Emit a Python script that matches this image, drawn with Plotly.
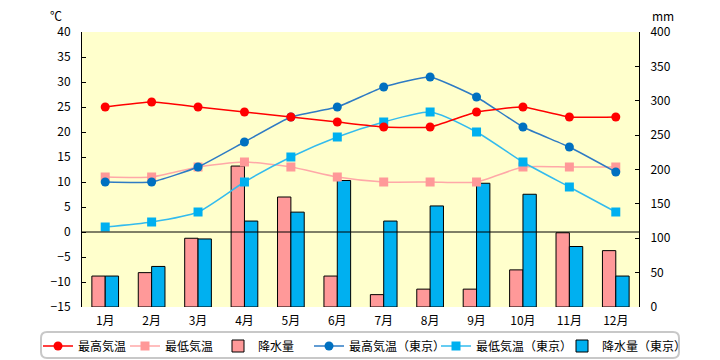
import plotly.graph_objects as go

months = ["1月", "2月", "3月", "4月", "5月", "6月", "7月", "8月", "9月", "10月", "11月", "12月"]
max_temp = [25, 26, 25, 24, 23, 22, 21, 21, 24, 25, 23, 23]
min_temp = [11, 11, 13, 14, 13, 11, 10, 10, 10, 13, 13, 13]
precip = [45, 50, 100, 205, 160, 45, 18, 26, 26, 54, 108, 82]
max_temp_tokyo = [10, 10, 13, 18, 23, 25, 29, 31, 27, 21, 17, 12]
min_temp_tokyo = [1, 2, 4, 10, 15, 19, 22, 24, 20, 14, 9, 4]
precip_tokyo = [45, 59, 99, 125, 138, 184, 125, 147, 180, 164, 88, 45]

temp_ticks = list(range(-15, 41, 5))
precip_ticks = list(range(0, 401, 50))

FONT = "Noto Sans CJK JP"
W, H = 720, 360
ML, MR, MT, MB = 82, 81, 32, 53
PW, PH = W - ML - MR, H - MT - MB


def px(x):
    return (x - ML) / PW


def py(y):
    return (H - MB - y) / PH


def rounded_rect(x0, y0, x1, y1, r):
    pts = [
        f"M {px(x0 + r)},{py(y0)}",
        f"L {px(x1 - r)},{py(y0)}",
        f"Q {px(x1)},{py(y0)} {px(x1)},{py(y0 + r)}",
        f"L {px(x1)},{py(y1 - r)}",
        f"Q {px(x1)},{py(y1)} {px(x1 - r)},{py(y1)}",
        f"L {px(x0 + r)},{py(y1)}",
        f"Q {px(x0)},{py(y1)} {px(x0)},{py(y1 - r)}",
        f"L {px(x0)},{py(y0 + r)}",
        f"Q {px(x0)},{py(y0)} {px(x0 + r)},{py(y0)}",
        "Z",
    ]
    return " ".join(pts)


fig = go.Figure()

# Bars on primary (right-side) axis so lines (y2) draw above them
fig.add_trace(go.Bar(x=months, y=precip, name="降水量", yaxis="y",
                     marker=dict(color="#FF9999", line=dict(color="black", width=1)),
                     legend="legend3"))
fig.add_trace(go.Bar(x=months, y=precip_tokyo, name="降水量（東京）", yaxis="y",
                     marker=dict(color="#00B0F0", line=dict(color="black", width=1)),
                     legend="legend6"))

fig.add_trace(go.Scatter(x=months, y=min_temp, name="最低気温", yaxis="y2",
                         mode="lines+markers", line=dict(color="#FFA8A8", width=1.5, shape="spline", smoothing=0.6),
                         marker=dict(symbol="square", size=9, color="#FF9999"),
                         legend="legend2"))
fig.add_trace(go.Scatter(x=months, y=min_temp_tokyo, name="最低気温（東京）", yaxis="y2",
                         mode="lines+markers", line=dict(color="#33BBEE", width=1.5, shape="spline", smoothing=0.6),
                         marker=dict(symbol="square", size=9, color="#00B0F0"),
                         legend="legend5"))
fig.add_trace(go.Scatter(x=months, y=max_temp_tokyo, name="最高気温（東京）", yaxis="y2",
                         mode="lines+markers", line=dict(color="#2E7BC4", width=1.5, shape="spline", smoothing=0.4),
                         marker=dict(symbol="circle", size=9, color="#0070C0"),
                         legend="legend4"))
fig.add_trace(go.Scatter(x=months, y=max_temp, name="最高気温", yaxis="y2",
                         mode="lines+markers", line=dict(color="#FF0000", width=1.5, shape="spline", smoothing=0.4),
                         marker=dict(symbol="circle", size=9, color="#FF0000"),
                         legend="legend"))

legend_common = dict(orientation="h", yanchor="middle", y=py(346), xanchor="left",
                     bgcolor="rgba(0,0,0,0)", borderwidth=0,
                     font=dict(family=FONT, size=12), itemwidth=30)

# text start positions (px) of each legend entry; entry's text sits 40px right of legend x
legend_text_x = [78, 165, 258, 349, 476, 602]
legend_keys = ["legend", "legend2", "legend3", "legend4", "legend5", "legend6"]
legends = {k: dict(legend_common, x=px(tx - 40)) for k, tx in zip(legend_keys, legend_text_x)}

fig.update_layout(
    width=W, height=H,
    margin=dict(l=ML, r=MR, t=MT, b=MB, autoexpand=False),
    paper_bgcolor="white",
    plot_bgcolor="#FFFFCC",
    font=dict(family=FONT, size=12, color="black"),
    barmode="group",
    bargap=0.425,
    bargroupgap=0,
    showlegend=True,
    xaxis=dict(type="category", range=[-0.5, len(months) - 0.5], showgrid=False, showline=False,
               ticks="", tickfont=dict(family=FONT, size=12), ticklabelstandoff=5),
    yaxis=dict(side="right", range=[0, 400], tickvals=precip_ticks, showgrid=False,
               showline=True, linecolor="black", linewidth=1, ticks="inside", ticklen=4,
               tickcolor="black", zeroline=False, ticklabelstandoff=8),
    yaxis2=dict(side="left", overlaying="y", range=[-15, 40], tickvals=temp_ticks, showgrid=False,
                showline=True, linecolor="black", linewidth=1, ticks="inside", ticklen=4,
                tickcolor="black", zeroline=False, ticklabelstandoff=8),
    shapes=[
        dict(type="line", xref="paper", x0=0, x1=1, yref="y2", y0=0, y1=0,
             line=dict(color="black", width=1), layer="above"),
        dict(type="path", xref="paper", yref="paper", path=rounded_rect(41, 332, 679, 358, 6),
             line=dict(color="#C8C8C8", width=2), fillcolor="rgba(0,0,0,0)", layer="below"),
    ],
    annotations=[
        dict(text="℃", xref="paper", yref="paper", x=px(56), y=py(15), showarrow=False,
             xanchor="center", yanchor="middle", font=dict(family=FONT, size=12)),
        dict(text="mm", xref="paper", yref="paper", x=px(663), y=py(15), showarrow=False,
             xanchor="center", yanchor="middle", font=dict(family=FONT, size=12)),
    ],
)
fig.update_layout(**legends)

fig.write_html("out.html", config={"displayModeBar": False},
               post_script="document.body.style.margin='0';document.body.style.overflow='hidden';")
